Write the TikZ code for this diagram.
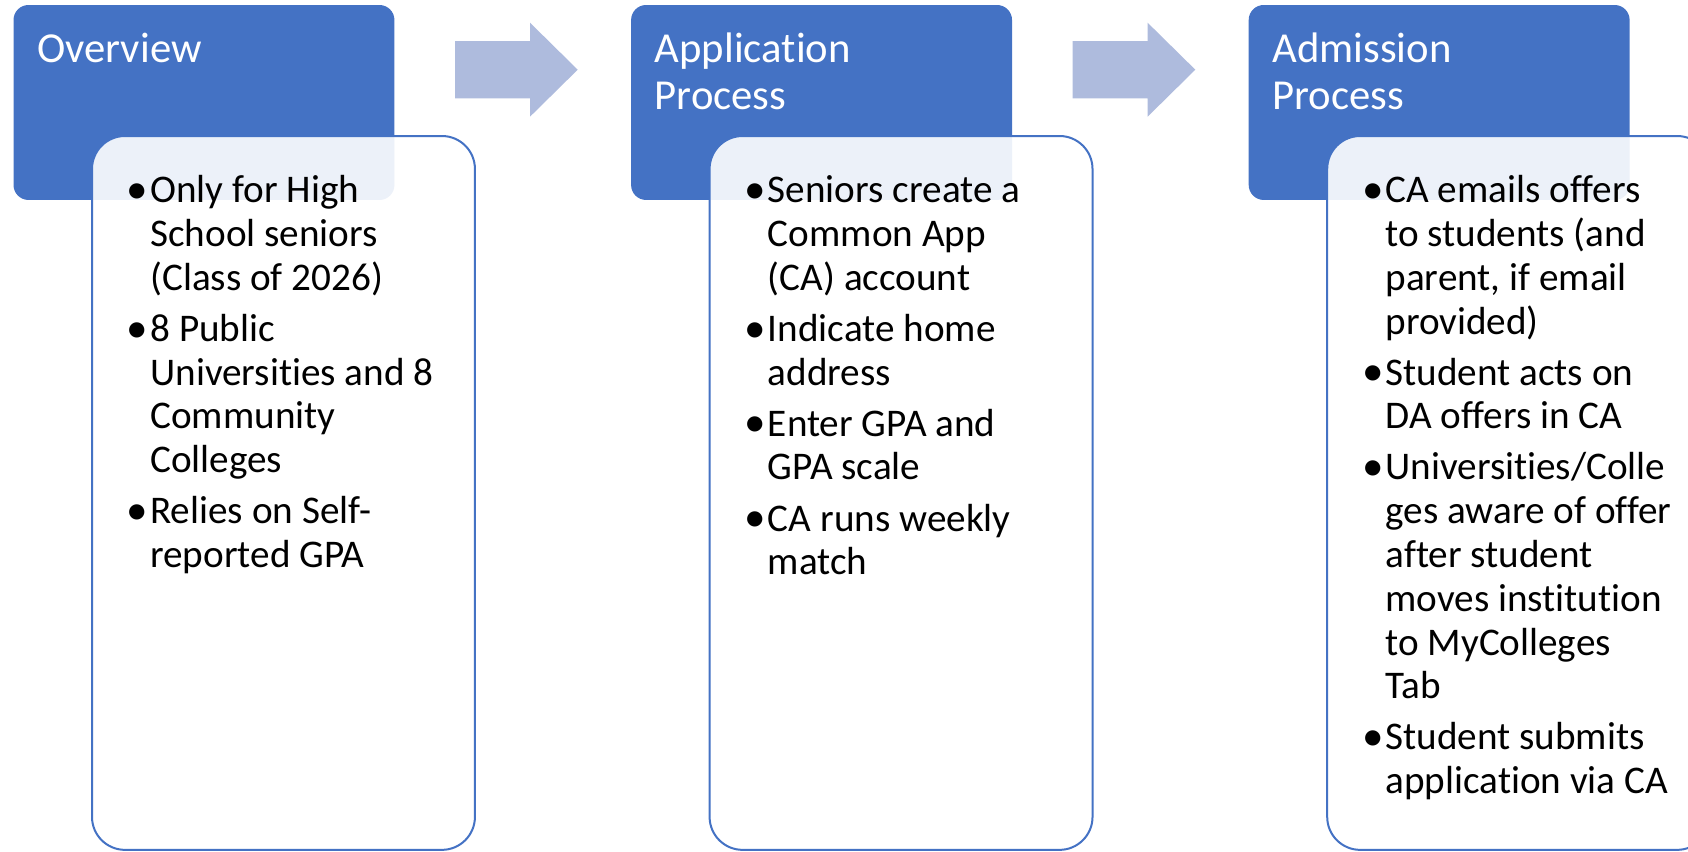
\documentclass[tikz,border=0pt]{standalone}
\usepackage{fontspec}
\setmainfont{Carlito}[Ligatures=NoCommon]
\usetikzlibrary{positioning, calc}

% bullet item with hanging indent (lines broken by hand)
\newcommand{\bitem}{\hangindent=12.5pt\hangafter=1\noindent%
    \makebox[12.5pt][l]{\hspace{-0.8pt}\raisebox{-0.4pt}{\scalebox{1.1}{•}}}}
\newcommand{\listsetup}{\setlength{\parskip}{4.15pt}\spaceskip=0pt\xspaceskip=0pt}

\begin{document}
\begin{tikzpicture}[x=0.02cm, y=-0.02cm,
    headbox/.style={fill=headblue, rounded corners=0.3cm, minimum width=7.62cm,
        minimum height=3.9cm, anchor=north west, inner sep=0pt, outer sep=0pt},
    cardbox/.style={draw=headblue, line width=0.04cm, fill=white, fill opacity=0.9,
        rounded corners=0.66cm, minimum width=7.66cm, minimum height=14.28cm,
        anchor=north west, inner sep=0pt, outer sep=0pt},
    headtext/.style={anchor=base west, text=white, text width=6.8cm, align=left,
        inner sep=0pt, font=\fontsize{24.3}{26.9}\selectfont},
    bodytext/.style={anchor=base west, text width=6.9cm, align=left,
        inner sep=0pt, font=\fontsize{22.3}{24.92}\selectfont}]

    % Define colors
    \definecolor{headblue}{RGB}{68,114,196}
    \definecolor{arrowblue}{RGB}{174,187,221}

    % Define dimensions (pixels)
    \def\colstep{617.6}

    \useasboundingbox (0,0) rectangle (1688,852);
    \clip (0,0) rectangle (1688,852);

    % Arrows between the steps
    \foreach \i in {0, 1} {
        \begin{scope}[shift={({\i*\colstep},0)}]
            \fill[arrowblue] (455,41) -- (530,41) -- (530,22.7) -- (577.7,69.7)
                -- (530,116.7) -- (530,98.3) -- (455,98.3) -- cycle;
        \end{scope}
    }

    % Header and card for each step
    \foreach \i in {0, 1, 2} {
        \begin{scope}[shift={({\i*\colstep},0)}]
            \node[headbox] (head\i) at (13.5,5) {};
            \node[cardbox] (card\i) at (92,136) {};
        \end{scope}
    }

    % Titles
    \node[headtext] (title0) at ($(head0.north west)+(23.4,57)$) {Overview};
    \node[headtext] (title1) at ($(head1.north west)+(23.4,57)$) {Application\\Process};
    \node[headtext] (title2) at ($(head2.north west)+(23.4,57)$) {Admission\\Process};

    % Bullet lists
    \node[bodytext] (list0) at ($(card0.north west)+(36,66.7)$) {\listsetup
        \bitem Only for High\newline School seniors\newline (Class of 2026)
        \par\bitem 8 Public\newline Universities and 8\newline Community\newline Colleges
        \par\bitem Relies on Self-\newline reported GPA\par};
    \node[bodytext] (list1) at ($(card1.north west)+(36,66.7)$) {\listsetup
        \bitem Seniors create a\newline Common App\newline (CA) account
        \par\bitem Indicate home\newline address
        \par\bitem Enter GPA and\newline GPA scale
        \par\bitem CA runs weekly\newline match\par};
    \node[bodytext] (list2) at ($(card2.north west)+(36,66.7)$) {\listsetup
        \bitem CA emails offers\newline to students (and\newline parent, if email\newline provided)
        \par\bitem Student acts on\newline DA offers in CA
        \par\bitem Universities/Colle\newline ges aware of offer\newline after student\newline moves institution\newline to MyColleges\newline Tab
        \par\bitem Student submits\newline application via CA\par};

\end{tikzpicture}
\end{document}
